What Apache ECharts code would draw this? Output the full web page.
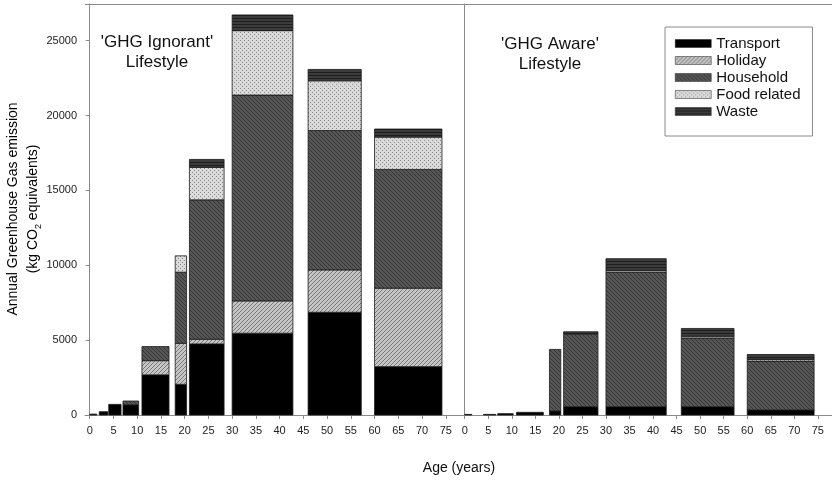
<!DOCTYPE html>
<html>
<head>
<meta charset="utf-8">
<script src="https://cdn.jsdelivr.net/npm/echarts@6/dist/echarts.min.js"></script>
<style>
  html, body { margin: 0; padding: 0; background: #fff; }
  #chart { width: 832px; height: 482px; }
</style>
</head>
<body>
<div id="chart"></div>
<script>
// age bins (start, end in years) shared by both panels
const binStart = [0, 2, 4, 7, 11, 18, 21, 30, 46, 60];
const binEnd = [1.5, 3.8, 6.6, 10.3, 16.7, 20.4, 28.3, 42.8, 57.2, 74.2];

const categories = ["Transport", "Holiday", "Household", "Food related", "Waste"];

// 'GHG Ignorant' lifestyle (kg CO2 eq per year)
const ignTransport = [60, 220, 710, 680, 2680, 2050, 4750, 5460, 6860, 3230];
const ignHoliday = [0, 0, 0, 0, 950, 2740, 310, 2160, 2830, 5240];
const ignHousehold = [0, 0, 0, 255, 940, 4750, 9310, 13750, 9310, 7930];
const ignFood = [0, 0, 0, 0, 0, 1090, 2170, 4300, 3320, 2160];
const ignWaste = [0, 0, 0, 0, 0, 0, 530, 1050, 760, 540];

// 'GHG Aware' lifestyle
const awTransport = [40, 0, 40, 90, 180, 270, 555, 555, 555, 333];
const awHoliday = [0, 0, 0, 0, 0, 0, 0, 0, 0, 0];
const awHousehold = [0, 0, 0, 0, 0, 4110, 4825, 8995, 4595, 3267];
const awFood = [0, 0, 0, 0, 0, 0, 60, 110, 110, 110];
const awWaste = [0, 0, 0, 0, 0, 0, 120, 780, 520, 330];

const xTicks = [0, 5, 10, 15, 20, 25, 30, 35, 40, 45, 50, 55, 60, 65, 70, 75];
const yTicks = [0, 5000, 10000, 15000, 20000, 25000];

function makePattern(size, bg, draw) {
  const c = document.createElement("canvas");
  c.width = size;
  c.height = size;
  const ctx = c.getContext("2d");
  ctx.fillStyle = bg;
  ctx.fillRect(0, 0, size, size);
  draw(ctx);
  return { image: c, repeat: "repeat" };
}

const fills = [
  "#000",
  makePattern(4, "#c6c6c6", ctx => {
    ctx.strokeStyle = "#777";
    ctx.lineWidth = 1;
    ctx.beginPath();
    ctx.moveTo(-1, 5); ctx.lineTo(5, -1);
    ctx.moveTo(-1, 1); ctx.lineTo(1, -1);
    ctx.moveTo(3, 5); ctx.lineTo(5, 3);
    ctx.stroke();
  }),
  makePattern(4, "#565656", ctx => {
    ctx.strokeStyle = "#363636";
    ctx.lineWidth = 1;
    ctx.beginPath();
    ctx.moveTo(-1, -1); ctx.lineTo(5, 5);
    ctx.moveTo(3, -1); ctx.lineTo(5, 1);
    ctx.moveTo(-1, 3); ctx.lineTo(1, 5);
    ctx.stroke();
  }),
  makePattern(4, "#dadada", ctx => {
    ctx.fillStyle = "#8c8c8c";
    ctx.fillRect(0, 0, 1, 1);
    ctx.fillRect(2, 2, 1, 1);
  }),
  makePattern(3, "#3c3c3c", ctx => {
    ctx.fillStyle = "#1e1e1e";
    ctx.fillRect(0, 0, 3, 1);
  })
];

function buildSeries(panel, layers) {
  const base = binStart.map(() => 0);
  return layers.map((vals, k) => {
    const data = [];
    vals.forEach((v, i) => {
      if (v > 0) data.push([binStart[i], binEnd[i], base[i], base[i] + v]);
      base[i] += v;
    });
    return {
      type: "custom",
      name: categories[k],
      xAxisIndex: panel,
      yAxisIndex: panel,
      itemStyle: { color: fills[k] },
      renderItem(params, api) {
        const p0 = api.coord([api.value(0), api.value(3)]);
        const p1 = api.coord([api.value(1), api.value(2)]);
        return {
          type: "rect",
          shape: { x: p0[0], y: p0[1], width: p1[0] - p0[0], height: p1[1] - p0[1] },
          style: { fill: fills[k], stroke: "#1a1a1a", lineWidth: 0.8 }
        };
      },
      encode: { x: [0, 1], y: [2, 3] },
      data
    };
  });
}

const font = "Liberation Sans, Arial, sans-serif";

function xAxis(idx) {
  return {
    type: "value",
    gridIndex: idx,
    min: -1,
    max: 78,
    splitLine: { show: false },
    axisLine: { lineStyle: { color: "#8a8a8a" } },
    axisTick: { customValues: xTicks, length: 4, lineStyle: { color: "#8a8a8a" } },
    axisLabel: { customValues: xTicks, color: "#222", fontSize: 11, fontFamily: font, margin: 10 }
  };
}

function yAxis(idx) {
  return {
    type: "value",
    gridIndex: idx,
    min: 0,
    max: 27450,
    splitLine: { show: false },
    axisLine: { show: true, lineStyle: { color: "#8a8a8a" } },
    axisTick: { show: idx === 0, customValues: yTicks, length: 4, lineStyle: { color: "#8a8a8a" } },
    axisLabel: {
      show: idx === 0,
      customValues: yTicks,
      formatter: v => String(v),
      color: "#222",
      fontSize: 11,
      fontFamily: font,
      margin: 8
    }
  };
}

const chart = echarts.init(document.getElementById("chart"));

chart.setOption({
  animation: false,
  textStyle: { fontFamily: font },
  grid: [
    { left: 85, top: 4, width: 375, height: 411 },
    { left: 460, top: 4, width: 380, height: 411 }
  ],
  xAxis: [xAxis(0), xAxis(1)],
  yAxis: [yAxis(0), yAxis(1)],
  legend: {
    orient: "vertical",
    left: 665,
    top: 27,
    padding: [9, 12, 17, 10],
    itemWidth: 36,
    itemHeight: 8,
    itemGap: 2,
    icon: "rect",
    backgroundColor: "#fff",
    borderColor: "#8a8a8a",
    borderWidth: 1,
    textStyle: { fontSize: 15, color: "#111", fontFamily: font, lineHeight: 15 },
    data: categories.map((c, k) => ({ name: c, itemStyle: { color: fills[k], borderColor: "#222", borderWidth: 0.5 } }))
  },
  graphic: [
    {
      type: "line",
      z: 50,
      shape: { x1: 85, y1: 4.5, x2: 832, y2: 4.5 },
      style: { stroke: "#8a8a8a", lineWidth: 1 }
    },
    {
      type: "text",
      z: 100,
      x: 157,
      y: 32,
      style: { text: "'GHG Ignorant'\nLifestyle", lineHeight: 20, fill: "#111", align: "center", font: "17px " + font }
    },
    {
      type: "text",
      z: 100,
      x: 550,
      y: 34,
      style: { text: "'GHG Aware'\nLifestyle", lineHeight: 20, fill: "#111", align: "center", font: "17px " + font }
    },
    {
      type: "text",
      x: 23,
      y: 209,
      rotation: Math.PI / 2,
      style: {
        text: "{a|Annual Greenhouse Gas emission}\n{a|(kg CO}{s|2}{a| equivalents)}",
        align: "center",
        verticalAlign: "middle",
        rich: {
          a: { fontSize: 14, fontFamily: font, color: "#111", lineHeight: 20 },
          s: { fontSize: 9, fontFamily: font, color: "#111", lineHeight: 20, verticalAlign: "bottom", padding: [6, 0, 0, 0] }
        }
      }
    },
    {
      type: "text",
      x: 459,
      y: 468,
      style: { text: "Age (years)", fontSize: 14, fontFamily: font, fill: "#111", align: "center", verticalAlign: "middle" }
    }
  ],
  series: [
    ...buildSeries(0, [ignTransport, ignHoliday, ignHousehold, ignFood, ignWaste]),
    ...buildSeries(1, [awTransport, awHoliday, awHousehold, awFood, awWaste])
  ]
});
</script>
</body>
</html>
